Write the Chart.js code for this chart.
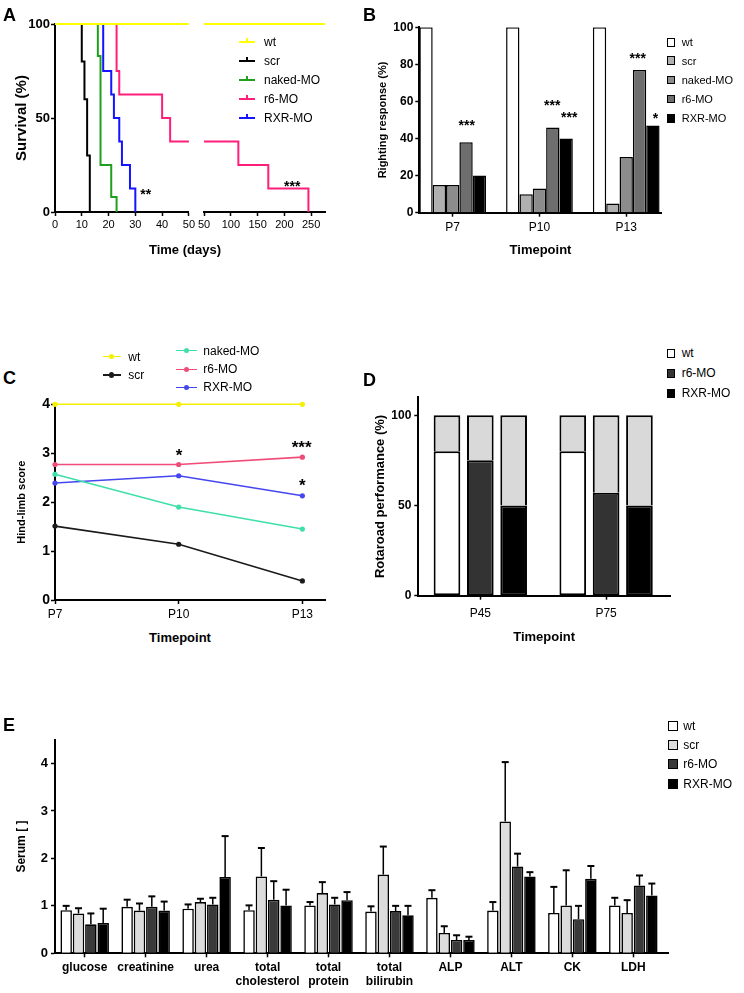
<!DOCTYPE html>
<html><head><meta charset="utf-8">
<script src="https://cdn.jsdelivr.net/npm/chart.js@4/dist/chart.umd.min.js"></script>
<style>
html,body{margin:0;padding:0;background:#fff;}
body{width:744px;height:993px;position:relative;overflow:hidden;font-family:"Liberation Sans",Arial,sans-serif;color:#000;}
canvas{position:absolute;}
</style></head><body>
<canvas id="aL"></canvas><canvas id="aR"></canvas><canvas id="cB"></canvas><canvas id="cC"></canvas><canvas id="cD"></canvas><canvas id="cE"></canvas>
<script>
// ---------------- DATA ----------------
// A: survival (Kaplan-Meier steps: day, % surviving after that day)
const survivalGroups = ['wt','scr','naked-MO','r6-MO','RXR-MO'];
const aLeftTicks = [0,10,20,30,40,50];
const aRightTicks = [50,100,150,200,250];
const aYTicks = [0,50,100];
const wtDays = [0,50,276];            const wtSurv = [100,100,100];
const scrDays = [0,10,11,12,13];       const scrSurv = [100,80,60,30,0];
const nakedDays = [0,16,17,21,23];     const nakedSurv = [100,83,25,8,0];
const r6Days = [0,23,24,40,43,50,114,170,245]; const r6Surv = [100,75,62.5,50,37.5,37.5,25,12.5,0];
const rxrDays = [0,18,21,22,24,25,28,30];      const rxrSurv = [100,75,62.5,50,37.5,25,12.5,0];

// B: righting response (%)
const bTimepoints = ['P7','P10','P13'];
const bYTicks = [0,20,40,60,80,100];
const bWt = [100,100,100];
const bScr = [15,10,5];
const bNaked = [15,13,30];
const bR6 = [38,46,77];
const bRxr = [20,40,47];

// C: hind-limb score
const cTimepoints = ['P7','P10','P13'];
const cYTicks = [0,1,2,3,4];
const cWt = [4,4,4];
const cScr = [1.51,1.14,0.39];
const cNaked = [2.57,1.90,1.45];
const cR6 = [2.77,2.77,2.92];
const cRxr = [2.39,2.54,2.13];

// D: rotarod performance (%): success part and remaining part
const dTimepoints = ['P45','P75'];
const dGroups = ['wt','r6-MO','RXR-MO'];
const dYTicks = [0,50,100];
const dWt = [80,80];   const dWtRest = [20,20];
const dR6 = [75,57];   const dR6Rest = [25,43];
const dRxr = [50,50];  const dRxrRest = [50,50];

// E: serum parameters (mean and upper error)
const eParams = ['glucose','creatinine','urea',['total','cholesterol'],['total','protein'],['total','bilirubin'],'ALP','ALT','CK','LDH'];
const eGroups = ['wt','scr','r6-MO','RXR-MO'];
const eYTicks = [0,1,2,3,4];
const eWt     = [0.91,0.98,0.94,0.91,1.01,0.88,1.17,0.90,0.85,1.01];
const eWtErr  = [0.09,0.15,0.09,0.10,0.07,0.11,0.16,0.18,0.55,0.16];
const eScr    = [0.84,0.90,1.08,1.62,1.27,1.66,0.43,2.78,1.01,0.85];
const eScrErr = [0.11,0.15,0.07,0.60,0.23,0.59,0.14,1.25,0.74,0.27];
const eR6     = [0.61,0.98,1.03,1.13,1.03,0.89,0.28,1.83,0.72,1.43];
const eR6Err  = [0.23,0.22,0.14,0.39,0.14,0.11,0.10,0.27,0.28,0.21];
const eRxr    = [0.64,0.90,1.61,1.01,1.12,0.80,0.28,1.62,1.57,1.22];
const eRxrErr = [0.30,0.19,0.86,0.33,0.17,0.20,0.07,0.09,0.27,0.25];

// ---------------- HELPERS ----------------
Chart.defaults.font.family = '"Liberation Sans", Arial, sans-serif';
Chart.defaults.color = '#000';
Chart.defaults.animation = false;
Chart.defaults.plugins.legend.display = false;
Chart.defaults.plugins.tooltip.enabled = false;

const zipXY = (xs, ys) => xs.map((x,i)=>({x:x, y:ys[i]}));
const idxXY = ys => ys.map((y,i)=>({x:i, y:y}));
function setup(id, b){ const c=document.getElementById(id); c.width=b.w; c.height=b.h; c.style.left=b.l+'px'; c.style.top=b.t+'px'; return c; }
const fixW = w => s => { s.width = w; };
const fixH = h => s => { s.height = h; };
const setTicks = vals => s => { s.ticks = vals.map(v=>({value:v})); };
const gridOpts = () => ({display:true, drawOnChartArea:false, drawTicks:true, tickLength:4, tickWidth:1.5, tickColor:'#000', offset:false});
const axisLine = () => ({display:true, color:'#000', width:2});
const yTitle = (text, size, pt) => ({display:true, text:text, font:{size:size, weight:'bold', lineHeight:1.2}, padding:{top:pt, bottom:0}});

const errorBars = {
  id:'errorBars',
  afterDatasetsDraw(chart){
    const ctx = chart.ctx, ys = chart.scales.y;
    ctx.save(); ctx.strokeStyle='#000';
    chart.data.datasets.forEach((ds,i)=>{
      if(!ds.errors) return;
      chart.getDatasetMeta(i).data.forEach((bar,j)=>{
        const top = ys.getPixelForValue(ds.data[j].y + ds.errors[j]);
        ctx.lineWidth = 1.5;
        ctx.beginPath(); ctx.moveTo(bar.x, bar.y); ctx.lineTo(bar.x, top); ctx.stroke();
        ctx.lineWidth = 2;
        ctx.beginPath(); ctx.moveTo(bar.x-3.5, top); ctx.lineTo(bar.x+3.5, top); ctx.stroke();
      });
    });
    ctx.restore();
  }
};

// ---------------- PANEL A ----------------
const aColors = ['#ffff00','#000000','#1ea01e','#ff1f7a','#1414ff'];
function aDatasets(clip){
  const xs=[wtDays,scrDays,nakedDays,r6Days,rxrDays], ys=[wtSurv,scrSurv,nakedSurv,r6Surv,rxrSurv];
  return survivalGroups.map((g,i)=>({label:g, data:zipXY(xs[i],ys[i]), borderColor:aColors[i], borderWidth:2, stepped:true, pointRadius:0, clip:clip}));
}
new Chart(setup('aL',{l:5,t:14,w:192,h:240}), {
  type:'line',
  data:{datasets:aDatasets({left:0,right:0,top:3,bottom:3})},
  options:{responsive:false,
    layout:{autoPadding:false, padding:{left:0,top:10,right:6.3,bottom:0}},
    scales:{
      x:{type:'linear',min:0,max:50,offset:false,afterBuildTicks:setTicks(aLeftTicks),afterFit:fixH(42),grid:gridOpts(),border:axisLine(),ticks:{font:{size:11},padding:2,maxRotation:0,autoSkip:false}},
      y:{type:'linear',min:0,max:100,afterBuildTicks:setTicks(aYTicks),afterFit:fixW(50),grid:gridOpts(),border:axisLine(),ticks:{font:{size:13,weight:'bold'},padding:1},title:yTitle('Survival (%)',15,8)}
    }}
});
new Chart(setup('aR',{l:196,t:14,w:134,h:240}), {
  type:'line',
  data:{datasets:aDatasets({left:0,right:2,top:3,bottom:3})},
  options:{responsive:false,
    layout:{autoPadding:false, padding:{left:8,top:10,right:5,bottom:0}},
    scales:{
      x:{type:'linear',min:50,max:276,offset:false,afterBuildTicks:setTicks(aRightTicks),afterFit:fixH(42),grid:gridOpts(),border:axisLine(),ticks:{font:{size:11},padding:2,maxRotation:0,autoSkip:false}},
      y:{type:'linear',min:0,max:100,display:false}
    }}
});

// ---------------- PANEL B ----------------
const bColors = ['#ffffff','#b0b0b0','#8c8c8c','#6e6e6e','#000000'];
const bVals = [bWt,bScr,bNaked,bR6,bRxr];
new Chart(setup('cB',{l:368,t:17,w:300,h:241}), {
  type:'bar',
  data:{datasets:survivalGroups.map((g,i)=>({label:g,data:idxXY(bVals[i]),backgroundColor:bColors[i],borderColor:'#000',borderWidth:1.5,borderSkipped:'start',categoryPercentage:0.769,barPercentage:1}))},
  options:{responsive:false,
    layout:{autoPadding:false, padding:{left:0,top:10.3,right:6.3,bottom:0}},
    scales:{
      x:{type:'linear',min:-0.385,max:2.409,offset:false,afterBuildTicks:setTicks([0,1,2]),afterFit:fixH(45.3),grid:gridOpts(),border:axisLine(),
         ticks:{callback:v=>bTimepoints[v],font:{size:12},padding:4,maxRotation:0,autoSkip:false},
         title:{display:true,text:'Timepoint',font:{size:13,weight:'bold',lineHeight:1.2},padding:{top:0,bottom:0}}},
      y:{type:'linear',min:0,max:100,afterBuildTicks:setTicks(bYTicks),afterFit:fixW(51.3),grid:gridOpts(),border:axisLine(),ticks:{font:{size:12,weight:'bold'},padding:2},title:yTitle('Righting response (%)',11,8.7)}
    }}
});

// ---------------- PANEL C ----------------
const cColors = ['#f5f000','#1a1a1a','#3ee0a8','#f04c78','#4646f0'];
const cVals = [cWt,cScr,cNaked,cR6,cRxr];
new Chart(setup('cC',{l:5,t:394,w:330,h:226}), {
  type:'line',
  data:{datasets:survivalGroups.map((g,i)=>({label:g,data:idxXY(cVals[i]),borderColor:cColors[i],backgroundColor:cColors[i],pointBackgroundColor:cColors[i],pointBorderWidth:0,pointRadius:2.6,borderWidth:1.6,clip:false}))},
  options:{responsive:false,
    layout:{autoPadding:false, padding:{left:0,top:10.3,right:10,bottom:0}},
    scales:{
      x:{type:'linear',min:0,max:2.183,offset:false,afterBuildTicks:setTicks([0,1,2]),afterFit:fixH(20),grid:gridOpts(),border:axisLine(),
         ticks:{callback:v=>cTimepoints[v],font:{size:12},padding:3,maxRotation:0,autoSkip:false}},
      y:{type:'linear',min:0,max:4,afterBuildTicks:setTicks(cYTicks),afterFit:fixW(50),grid:gridOpts(),border:axisLine(),ticks:{font:{size:14,weight:'bold'},padding:1},title:yTitle('Hind-limb score',11,10.1)}
    }}
});

// ---------------- PANEL D ----------------
const dBase = ['#ffffff','#333333','#000000'];
const dRestColor = '#d9d9d9';
const dOk = [dWt,dR6,dRxr], dRest = [dWtRest,dR6Rest,dRxrRest];
const dSets = [];
dGroups.forEach((g,i)=>{
  dSets.push({label:g,stack:g,data:idxXY(dOk[i]),backgroundColor:dBase[i],borderColor:'#000',borderWidth:2,borderSkipped:false,categoryPercentage:0.795,barPercentage:0.8});
});
dGroups.forEach((g,i)=>{
  dSets.push({label:g+' rest',stack:g,data:idxXY(dRest[i]),backgroundColor:dRestColor,borderColor:'#000',borderWidth:2,borderSkipped:'start',categoryPercentage:0.795,barPercentage:0.8});
});
new Chart(setup('cD',{l:368,t:387,w:306,h:258}), {
  type:'bar',
  data:{datasets:dSets},
  options:{responsive:false,
    layout:{autoPadding:false, padding:{left:0,top:9.9,right:4,bottom:0}},
    scales:{
      x:{type:'linear',stacked:true,min:-0.493,max:1.508,offset:false,afterBuildTicks:setTicks([0,1]),afterFit:fixH(49.3),grid:gridOpts(),border:axisLine(),
         ticks:{callback:v=>dTimepoints[v],font:{size:12},padding:7,maxRotation:0,autoSkip:false},
         title:{display:true,text:'Timepoint',font:{size:13,weight:'bold',lineHeight:1.2},padding:{top:0,bottom:0}}},
      y:{type:'linear',stacked:true,min:0,max:110,afterBuildTicks:setTicks(dYTicks),afterFit:fixW(50.3),grid:gridOpts(),border:axisLine(),ticks:{font:{size:12,weight:'bold'},padding:3},title:yTitle('Rotaroad performance (%)',13,4.2)}
    }}
});

// ---------------- PANEL E ----------------
const eColors = ['#ffffff','#dcdcdc','#3a3a3a','#000000'];
const eVals = [eWt,eScr,eR6,eRxr], eErrs = [eWtErr,eScrErr,eR6Err,eRxrErr];
new Chart(setup('cE',{l:5,t:729,w:668,h:264}), {
  type:'bar',
  data:{datasets:eGroups.map((g,i)=>({label:g,data:idxXY(eVals[i]),errors:eErrs[i],backgroundColor:eColors[i],borderColor:'#000',borderWidth:1.6,borderSkipped:'start',categoryPercentage:0.81,barPercentage:0.93}))},
  options:{responsive:false,
    layout:{autoPadding:false, padding:{left:0,top:9.9,right:4.7,bottom:0}},
    scales:{
      x:{type:'linear',min:-0.487,max:9.574,offset:false,afterBuildTicks:setTicks([0,1,2,3,4,5,6,7,8,9]),afterFit:fixH(39.7),grid:gridOpts(),border:axisLine(),
         ticks:{callback:v=>eParams[v],font:{size:12,weight:'bold',lineHeight:1.12},padding:4,maxRotation:0,autoSkip:false}},
      y:{type:'linear',min:0,max:4.5,afterBuildTicks:setTicks(eYTicks),afterFit:fixW(50),grid:gridOpts(),border:axisLine(),ticks:{font:{size:13,weight:'bold'},padding:3},title:yTitle('Serum [ ]',12,9.5)}
    }},
  plugins:[errorBars]
});

// ---------------- HTML TEXT: letters, legends, titles, stars ----------------
const body = document.body;
function el(css){ const d=document.createElement('div'); d.style.cssText='position:absolute;'+css; body.appendChild(d); return d; }
function text(x,y,s,size,weight,anchor){
  const d=el(`left:${x}px;top:${y}px;font-size:${size}px;font-weight:${weight};line-height:1;white-space:nowrap;`);
  d.textContent=s;
  d.style.transform = anchor==='c'?'translate(-50%,-50%)':(anchor==='l'?'translate(0,-50%)':'none');
  return d;
}
function letter(x,capTop,s){ text(x, capTop-2.35, s, 18, 'bold', 'lt'); }
function star(x,y,s,size){ const d=text(x, y-0.27*size, s, size, 'bold', 'lt'); d.style.transform='translateX(-50%)'; }
function line(x1,x2,y,color,w){ el(`left:${x1}px;top:${y-w/2}px;width:${x2-x1}px;height:${w}px;background:${color};`); }
function square(x,y,size,color){ el(`left:${x}px;top:${y-size/2}px;width:${size}px;height:${size}px;background:${color};border:1.5px solid #000;box-sizing:border-box;`); }

letter(3,8.3,'A'); letter(363,8,'B'); letter(3,371.7,'C'); letter(363,373.5,'D'); letter(3,718,'E');

// A legend
const aLegY = [42.3,60.7,80,99,118.3];
survivalGroups.forEach((g,i)=>{
  line(239,255,aLegY[i],aColors[i],2);
  el(`left:246.3px;top:${aLegY[i]-4}px;width:1.5px;height:4px;background:${aColors[i]};`);
  text(264,aLegY[i],g,12,'normal','l');
});
text(185,249,'Time (days)',13,'bold','c');
star(145.7,190.7,'**',14);
star(292.3,182.7,'***',14);

// B legend
survivalGroups.forEach((g,i)=>{ square(666.7,aLegY[i],8.5,bColors[i]); text(681.7,aLegY[i],g,11,'normal','l'); });
star(466.7,122,'***',14);
star(552.3,102,'***',14);
star(569.3,114,'***',14);
star(637.7,54.3,'***',14);
star(655.5,114.3,'*',14);

// C legend
const cLeg = [[102.7,120.7,128.3,356.7],[102.7,120.7,128.3,375],[176,197.3,203.3,350.7],[176,197.3,203.3,369.3],[176,197.3,203.3,387.3]];
survivalGroups.forEach((g,i)=>{
  const [x1,x2,tx,y]=cLeg[i];
  line(x1,x2,y,cColors[i],1.6);
  el(`left:${(x1+x2)/2-2.6}px;top:${y-2.6}px;width:5.2px;height:5.2px;border-radius:50%;background:${cColors[i]};`);
  text(tx,y,g,12,'normal','l');
});
text(180,637,'Timepoint',13,'bold','c');
star(179,451.7,'*',17);
star(301.7,444,'***',17);
star(302.3,481.7,'*',17);

// D legend
const dLegY = [353.3,373.3,393.3];
dGroups.forEach((g,i)=>{ square(666.7,dLegY[i],8.5,dBase[i]); text(681.7,dLegY[i],g,12,'normal','l'); });

// E legend
const eLegY = [726,745,764,784];
eGroups.forEach((g,i)=>{ square(668.3,eLegY[i],10,eColors[i]); text(683.3,eLegY[i],g,12,'normal','l'); });
</script>
</body></html>
